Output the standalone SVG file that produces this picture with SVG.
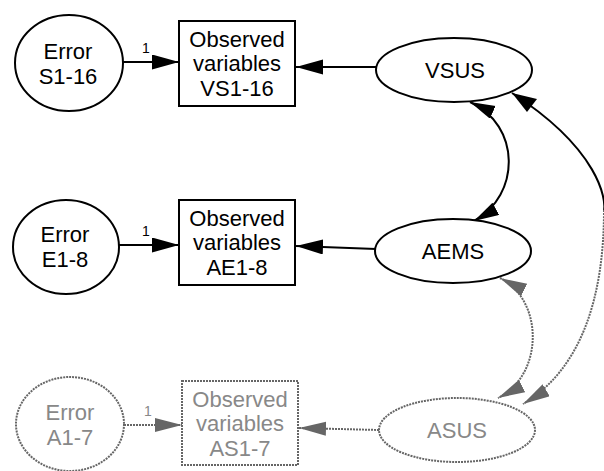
<svg xmlns="http://www.w3.org/2000/svg" width="604" height="471" viewBox="0 0 604 471">
<style>
.n{fill:#fff;stroke:#000;stroke-width:2}
.g{fill:#fff;stroke:#666;stroke-width:2;stroke-dasharray:2 1}
.t{font-family:"Liberation Sans",Arial,sans-serif;font-size:22px;fill:#000;text-anchor:middle}
.tg{font-family:"Liberation Sans",Arial,sans-serif;font-size:22px;fill:#888;text-anchor:middle}
.l{font-family:"Liberation Sans",Arial,sans-serif;font-size:14px;fill:#000;text-anchor:middle}
.e{fill:none;stroke:#000;stroke-width:2}
.eg{fill:none;stroke:#666;stroke-width:2;stroke-dasharray:2 1}
</style>
<defs>
<marker id="a" markerUnits="userSpaceOnUse" markerWidth="28" markerHeight="16" refX="27" refY="7.5" orient="auto"><path d="M0,0 L27,7.5 L0,15 Z" fill="#000"/></marker>
<marker id="as" markerUnits="userSpaceOnUse" markerWidth="28" markerHeight="16" refX="25" refY="7" orient="auto-start-reverse"><path d="M0,0 L25,7 L0,14 Z" fill="#000"/></marker>
<marker id="ag" markerUnits="userSpaceOnUse" markerWidth="28" markerHeight="16" refX="27" refY="7" orient="auto-start-reverse"><path d="M0,0 L27,7 L0,14 Z" fill="#666"/></marker>
</defs>
<g id="connectors">
<line class="e" x1="123" y1="62" x2="179" y2="62" marker-end="url(#a)"/>
<line class="e" x1="376" y1="67" x2="296" y2="67" marker-end="url(#a)"/>
<line class="e" x1="119" y1="245" x2="179" y2="245" marker-end="url(#a)"/>
<line class="e" x1="376" y1="249" x2="296" y2="246" marker-end="url(#a)"/>
<line class="eg" x1="124" y1="425" x2="182" y2="425" marker-end="url(#ag)"/>
<line class="eg" x1="379" y1="430" x2="299" y2="428" marker-end="url(#ag)"/>
<path class="e" d="M470,102 C521,125 521,195 474,221" marker-start="url(#as)" marker-end="url(#as)"/>
<path class="e" d="M512,93 C600,150 606,200 604,210"/>
<path class="eg" d="M604,210 C604,300 580,370 523,404" marker-end="url(#ag)"/>
<path d="M512,93 L537,99 L527,112 Z" fill="#000"/>
<path class="eg" d="M500,278 C544,300 544,375 498,398" marker-start="url(#ag)" marker-end="url(#ag)"/>
<text class="l" x="146" y="53">1</text>
<text class="l" x="146" y="236">1</text>
<text class="l" x="148" y="416" style="fill:#888">1</text>
</g>
<g id="errS"><ellipse class="n" cx="69" cy="63" rx="54" ry="48"/><text class="t" x="68" y="59">Error</text><text class="t" x="68" y="84">S1-16</text></g>
<g id="obsVS"><rect class="n" x="179" y="21" width="116" height="85"/><text class="t" x="237" y="47">Observed</text><text class="t" x="237" y="71">variables</text><text class="t" x="237" y="96">VS1-16</text></g>
<g id="vsus"><ellipse class="n" cx="454" cy="70" rx="78" ry="32"/><text class="t" x="455" y="78">VSUS</text></g>
<g id="errE"><ellipse class="n" cx="66" cy="247" rx="53" ry="47"/><text class="t" x="65" y="242">Error</text><text class="t" x="65" y="267">E1-8</text></g>
<g id="obsAE"><rect class="n" x="179" y="200" width="116" height="85"/><text class="t" x="237" y="226">Observed</text><text class="t" x="237" y="250">variables</text><text class="t" x="237" y="275">AE1-8</text></g>
<g id="aems"><ellipse class="n" cx="453" cy="251" rx="78" ry="32"/><text class="t" x="453" y="259">AEMS</text></g>
<g id="errA"><ellipse class="g" cx="70" cy="424" rx="54" ry="47"/><text class="tg" x="70" y="420">Error</text><text class="tg" x="70" y="445">A1-7</text></g>
<g id="obsAS"><rect class="g" x="182" y="381" width="116" height="84"/><text class="tg" x="240" y="407">Observed</text><text class="tg" x="240" y="431">variables</text><text class="tg" x="240" y="456">AS1-7</text></g>
<g id="asus"><ellipse class="g" cx="457" cy="430" rx="78" ry="32"/><text class="tg" x="457" y="438">ASUS</text></g>
</svg>
